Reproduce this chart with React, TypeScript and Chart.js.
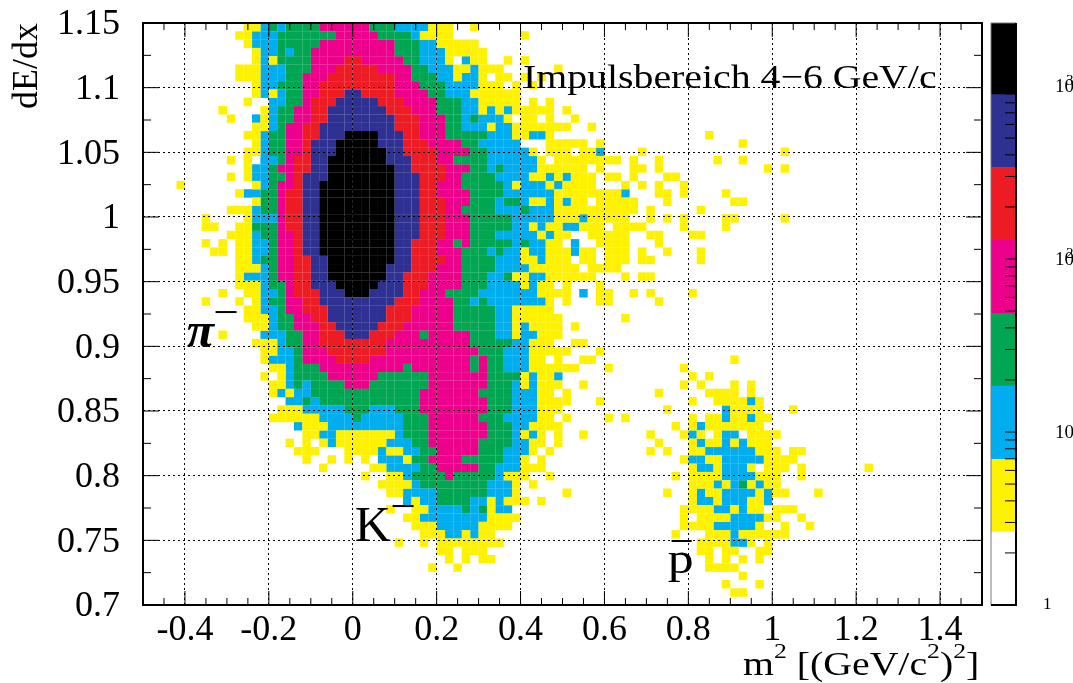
import React, { useEffect, useRef } from "react";
import Chart from "chart.js/auto";

// Histogram rows from the top (dE/dx = 1.15) down. Each token is "<first column><level>", running up to the next token.
// Levels: y b g p r n k are the contour colours, _ is empty.
const histogramRows: string[] = [
  "12y14b15g16b17g21p27g30b34y37_39y40_",
  "11y13b16g23p28g32b33y37_45y46_",
  "12y13b16g21p30g33b35y40_",
  "13y14b16g17b18g20p30g33b36y41_",
  "13y14b15y16g20p24r26p31g33b36y37_38b39y41_43y44_45y46_",
  "11y14b17g20p23r28p32g34b37y39b40y43_49y50_",
  "11y14b17g19p22r30p32g35b37y38b40y41_42y44_45y46_47y48_",
  "13y14b16g19p21r30p33g36b40y43_44y45_46y47_",
  "13y14b15y16b17g19p21r24n26r30p34g36b39y45_",
  "12y13_15b17g19p20r23n28r31p35g38b40y45_46y47_48y49_",
  "9y10_14y15b16g18p20r22n29r32p35g38b40y41b42y43b44y49_50y51_",
  "10y11_13b14y15b16g18p20r22n30r33p36g38b39g40b43y44_45y47_48y49_51y52_",
  "13y15b16g17p19r21n30r33p36g38b41y42b44y51_53y54_",
  "12y14b15g17p19r21n24k28n31r33p36g41b44y46b48y49_67y68_",
  "13y14b15g17p19r20n23k28n31r34p38g40b45_48y53_54y55_71y72_",
  "12y14b15g17p19r20n23k29n31r35p39g41b46y47_48y51_52y54b55_59y60_76y77_",
  "10y11_12y13_14b16g17p18r20n22k29n32r35p37g41b47y48_49y57_58y59_61y62_68y69_71y72_",
  "12y13b15g16p18r20n22k30n32r36p39g41b42g43b47y53_54y55_58y60_61y62_74y75_76y77_",
  "10y11_12y13b15g17p18r19n22k30n33r36p38g42b46y48b49y50b51y54_55y57_58y59_62y64_",
  "4y5_13y14b15g16p18r19n21k30n33r35p38g43b44y45b48y49b50y54_57y58_59y60_61y62_64y65_",
  "11y12b14g16p17r19n21k30n33r35p39g43b49y57b58_61y63_64y65_69y70_",
  "13y14g16p17r19n21k30n33r36p39g42b43g45b46y48b49y50b51y53_54y59_62y63_70y72_",
  "10y13b14g16p17r19n21k30n33r36p38g42b45g46b49y59_60y61_66y67_",
  "7y8_12y13b16p17r19n21k30n33r36p39g44b49y52b53y58_60y61_62y63_64y65_69y71_76y77_",
  "7y9_11y13g16p17r19n21k30n33r36p39g44b46y47b48y50b52y55_56y60_64y65_69y70_",
  "10y13b14g16p18r19n21k30n33r36p39g42b47y48b49y51_53y58_60y62_65y67_",
  "7y8_9y10_11y13b15g16p18r19n21k30n32r35p37g38p39g44b45g46b48y50_51b52_54y58_61y62_",
  "8y10_11y13b15g16p18r19n21k30n32r35p38g41b42g43b45y46b48y51b52y54_55y58_59y60_62y63_66y67_",
  "11y13b14g16p18r20n22k30n32r36p38g42b45y47b48y51_52y54_55y58_59y61_66y67_",
  "11y14b15g16p18r20n22k29n32r35p38g42b46y52_53y57_",
  "11y12b15g16p18r20n22k29n31r34p38g41b43g44y46b48y54_57y58_59y61_",
  "11y14b15g17p18r20n23k28n31r34p38g41b45y46b47y49_50y51_54y55_",
  "9y10_12y14b16g17p18r21n24k27n31r33p36g40b47y51_52b53_54y56_58y59_60y61_65y66_",
  "7y8_11y12_13y14b15g17p19r21n30r33p37g39b40g41b48y49_50y51_54y56_61y62_",
  "12y14b16g17p19r22n29r32p37g42b44y49_",
  "12y15b16g18p20r22n29r32p37g42b44y50_57y58_",
  "13y15b16g18p21r23n28r31p37g42b44y45b46y50_51y52_",
  "9y10_14b17g19p21r24n27r30p33g34p39g42b44y45b47y50_",
  "13y16b17g19p21r29p39g44b46y49_51y53_",
  "14y16b18g19p22r29p40g43b46y51_54y55_",
  "14y15b18g19p23r27p39g40p41g43b46y48_49y50_52y54_70y71_",
  "15y17b18g21p31g32p39g40p41g43b46y52_55y56_64y65_",
  "14y15_16y17b18g22p28g34p41g45y46b47y49b50_65y66_67y68_",
  "15y17b18g19b20g24p27g34p41g44b45y46b47y50_52y53_64y65_66y67_70y71_72y73_",
  "15y16b17y18b20g33p40g44b47y49_50y51_61y62_67y71_72y73_",
  "17b19g20b21g33p41g44b47y51_54y55_65y66_68y72b73y74_",
  "16y19b24g27b30g33p41g44b47y50_62y63_69b70y74_77y78_",
  "15y21b25g26b31g34p40g43b47y49_50y51_55y56_57y58_65y66_67y69b70y72b73y75_",
  "18b19y22b31g34p41g44b46y50_63y64_65y66b67y74_",
  "19y21b23y30b31g34p41g44b45y46b47y48_49y50_52y53_60y61_64y65b66y67_68y69b71_72y76_",
  "17y18_19y20_21y22b23y29b32g34p40g44b46y48_49y50_61y62_65y66b67y69b70y71b72y75_",
  "18y21_24y28b29y31b33g35p40g43b46y47_48y49_60y61_62y63_65y67b73y76_77y79_",
  "19y20_22y23_24y25_26y27_28b31y32g34p38g43b45y46_47y48_64y65b67y69b74y78_",
  "21y22_27y29b33g35p40g42b45y48_65y66b68y69b72y73_74y77_78y79_86y87_",
  "26y27_29y31b32g36p37g42b43y46_48y49_63y64_65y69b73y76_78y79_",
  "28y32b33g41b44y45_46y47_65y68b69y70b71g72y73b74y76_",
  "29y31b35g41b44y45_50y51_62y63_65y66b67y69b73y74b75y77_80y81_",
  "31b32y33b35g39b41y42b43y46_47y48_65y66b68y69b72y74b75_",
  "29y30_32y34b38g39b40g41y42b44_64y68b70y71b72y74_75y78_",
  "31y33b41y45_64y65_66y70b74y76_78y79_",
  "32y35b40y44_64y68b73y74_76y77_79y80_",
  "33y36b38y39b40y42_63y64_67y70b71y77_",
  "30y31_33y34_35y43_66y70b72y73_74y75_",
  "35y37_38y41_66y68_69y71_73y75_",
  "36y37_38y39_40y42_67y68_69y70_71y72_73y74_",
  "34y35_37y38_67y71_",
  "71y72_",
  "69y70_73y74_",
  "70y72_",
  "",
];

const levelKeys = ["y", "b", "g", "p", "r", "n", "k"];
const levelColors = ["#FFF200", "#00AEEF", "#00A651", "#EC008C", "#ED1C24", "#2E3192", "#000000"];

const xMin = -0.5;
const xMax = 1.5;
const xBins = 100;
const yMin = 0.7;
const yMax = 1.15;
const yBins = 70;

const xTickValues = [-0.4, -0.2, 0, 0.2, 0.4, 0.6, 0.8, 1, 1.2, 1.4];
const xTickLabels = ["-0.4", "-0.2", "0", "0.2", "0.4", "0.6", "0.8", "1", "1.2", "1.4"];
const yTickValues = [0.7, 0.75, 0.8, 0.85, 0.9, 0.95, 1, 1.05, 1.1, 1.15];
const yTickLabels = ["0.7", "0.75", "0.8", "0.85", "0.9", "0.95", "1", "1.05", "1.1", "1.15"];
const xMinorTicks = [-0.45, -0.35, -0.3, -0.25, -0.15, -0.1, -0.05, 0.05, 0.1, 0.15, 0.25, 0.3, 0.35, 0.45, 0.5, 0.55, 0.65, 0.7, 0.75, 0.85, 0.9, 0.95, 1.05, 1.1, 1.15, 1.25, 1.3, 1.35, 1.45];
const yMinorTicks = [0.725, 0.775, 0.825, 0.875, 0.925, 0.975, 1.025, 1.075, 1.125];

const colorbarEdges = [1, 2.64, 6.96, 18.4, 48.6, 128, 338, 892, 2313];
const colorbarColors = ["#FFFFFF", "#FFF200", "#00AEEF", "#00A651", "#EC008C", "#ED1C24", "#2E3192", "#000000"];
const colorbarTicks = [2, 3, 4, 5, 6, 7, 8, 9, 20, 30, 40, 50, 60, 70, 80, 90, 200, 300, 400, 500, 600, 700, 800, 900, 2000];
const colorbarDecades = [10, 100, 1000];
const colorbarExponents = ["", "2", "3"];

const SERIF = '"Liberation Serif"';
const STRETCH = 1.17;

function buildLevelPoints(key: string) {
  const points: { x: number; y: number }[] = [];
  histogramRows.forEach((row, k) => {
    const tokens = [...row.matchAll(/(\d+)([a-z_])/g)];
    tokens.forEach((t, i) => {
      if (t[2] !== key || i + 1 >= tokens.length) return;
      const end = Number(tokens[i + 1][1]);
      for (let c = Number(t[1]); c < end; c++) {
        points.push({
          x: xMin + ((c + 0.5) * (xMax - xMin)) / xBins,
          y: yMax - ((k + 0.5) * (yMax - yMin)) / yBins,
        });
      }
    });
  });
  return points;
}

function stretchedText(ctx: any, text: string, x: number, y: number, sx: number) {
  ctx.save();
  ctx.translate(x, y);
  ctx.scale(sx, 1);
  ctx.fillText(text, 0, 0);
  ctx.restore();
  return ctx.measureText(text).width * sx;
}

const framePlugin = {
  id: "frame",
  afterDraw(chart: any) {
    const { ctx, chartArea: a, scales } = chart;
    const X = (v: number) => scales.x.getPixelForValue(v);
    const Y = (v: number) => scales.y.getPixelForValue(v);
    ctx.save();
    ctx.strokeStyle = "#000";
    ctx.lineWidth = 1;
    const tick = (x0: number, y0: number, x1: number, y1: number) => {
      ctx.beginPath();
      ctx.moveTo(x0, y0);
      ctx.lineTo(x1, y1);
      ctx.stroke();
    };
    xTickValues.forEach((v) => {
      tick(X(v), a.bottom, X(v), a.bottom - 14);
      tick(X(v), a.top, X(v), a.top + 14);
    });
    xMinorTicks.forEach((v) => {
      tick(X(v), a.bottom, X(v), a.bottom - 7);
      tick(X(v), a.top, X(v), a.top + 7);
    });
    yTickValues.forEach((v) => {
      tick(a.left, Y(v), a.left + 16, Y(v));
      tick(a.right, Y(v), a.right - 16, Y(v));
    });
    yMinorTicks.forEach((v) => {
      tick(a.left, Y(v), a.left + 8, Y(v));
      tick(a.right, Y(v), a.right - 8, Y(v));
    });
    ctx.lineWidth = 2;
    ctx.strokeRect(a.left, a.top, a.right - a.left, a.bottom - a.top);

    ctx.fillStyle = "#000";
    ctx.textBaseline = "alphabetic";
    ctx.textAlign = "left";
    ctx.font = `34px ${SERIF}`;
    stretchedText(ctx, "Impulsbereich 4\u22126 GeV/c", X(0.406), Y(1.0997), STRETCH);
    ctx.font = `italic bold 50px ${SERIF}`;
    ctx.fillText("\u03c0", X(-0.396), Y(0.8995));
    ctx.font = `50px ${SERIF}`;
    ctx.fillText("K", X(0.005), Y(0.7495));
    ctx.font = `45px ${SERIF}`;
    stretchedText(ctx, "p", X(0.751), Y(0.7247), 1.15);
    ctx.lineWidth = 2;
    tick(X(-0.327), Y(0.9265), X(-0.277), Y(0.9265));
    tick(X(0.095), Y(0.7765), X(0.145), Y(0.7765));
    tick(X(0.76), Y(0.7495), X(0.808), Y(0.7495));

    // x axis title, with raised exponents
    const parts: [string, boolean][] = [
      ["m", false],
      ["2", true],
      [" [(GeV/c", false],
      ["2", true],
      [")", false],
      ["2", true],
      ["]", false],
    ];
    let tx = 743;
    parts.forEach(([text, sup]) => {
      ctx.font = `${sup ? 22 : 34}px ${SERIF}`;
      tx += stretchedText(ctx, text, tx, sup ? 658 : 675, STRETCH);
    });
    ctx.restore();
  },
};

const colorbarPlugin = {
  id: "colorbarFrame",
  afterDraw(chart: any) {
    const { ctx, chartArea: a, scales } = chart;
    const Z = (v: number) => scales.y.getPixelForValue(v);
    ctx.save();
    ctx.strokeStyle = "#000";
    ctx.lineWidth = 1;
    [...colorbarTicks, ...colorbarDecades].forEach((v) => {
      ctx.beginPath();
      ctx.moveTo(a.right - 11, Z(v));
      ctx.lineTo(a.right, Z(v));
      ctx.stroke();
    });
    ctx.strokeStyle = "#777";
    ctx.beginPath();
    ctx.moveTo(a.left, a.bottom);
    ctx.lineTo(a.left, a.top);
    ctx.lineTo(a.right, a.top);
    ctx.stroke();
    ctx.strokeStyle = "#000";
    ctx.lineWidth = 2;
    ctx.beginPath();
    ctx.moveTo(a.left, a.bottom);
    ctx.lineTo(a.right, a.bottom);
    ctx.lineTo(a.right, a.top);
    ctx.stroke();

    ctx.fillStyle = "#000";
    ctx.textBaseline = "middle";
    ctx.textAlign = "left";
    ctx.font = `17px ${SERIF}`;
    ctx.fillText("1", a.right + 27, Z(1));
    ctx.font = `19px ${SERIF}`;
    colorbarDecades.forEach((v, i) => {
      ctx.fillText("10", a.right + 39, Z(v) + 1);
      if (colorbarExponents[i]) {
        ctx.font = `15px ${SERIF}`;
        ctx.fillText(colorbarExponents[i], a.right + 50, Z(v) - 5);
        ctx.font = `19px ${SERIF}`;
      }
    });
    ctx.restore();
  },
};

export default function App() {
  const mainRef = useRef<HTMLCanvasElement>(null);
  const barRef = useRef<HTMLCanvasElement>(null);

  useEffect(() => {
    document.body.style.margin = "0";
    const main = new Chart(mainRef.current!, {
      type: "scatter",
      data: {
        datasets: levelKeys.map((key, i) => ({
          label: key,
          data: buildLevelPoints(key),
          backgroundColor: levelColors[i],
          borderWidth: 0,
          pointStyle: "rect",
          pointRadius: 6.0,
          pointHoverRadius: 6.0,
        })),
      },
      options: {
        animation: false,
        responsive: false,
        maintainAspectRatio: false,
        events: [],
        layout: { padding: { top: 23, right: 8 } },
        plugins: { legend: { display: false }, tooltip: { enabled: false } },
        scales: {
          x: {
            type: "linear",
            min: xMin,
            max: xMax,
            afterBuildTicks: (s: any) => {
              s.ticks = xTickValues.map((value) => ({ value }));
            },
            afterFit: (s: any) => {
              s.height = 78;
              s.paddingLeft = 0;
              s.paddingRight = 0;
            },
            ticks: {
              autoSkip: false,
              maxRotation: 0,
              padding: 4,
              color: "#000",
              font: { family: SERIF, size: 36 },
              callback: (v: any) => xTickLabels[xTickValues.indexOf(Number(v))] ?? "",
            },
            border: { display: false, dash: [2, 3] },
            grid: { color: "#000", lineWidth: 1, z: 1, drawTicks: false },
          },
          y: {
            type: "linear",
            min: yMin,
            max: yMax,
            afterBuildTicks: (s: any) => {
              s.ticks = yTickValues.map((value) => ({ value }));
            },
            afterFit: (s: any) => {
              s.width = 143;
              s.paddingTop = 0;
              s.paddingBottom = 0;
            },
            ticks: {
              autoSkip: false,
              padding: 23,
              labelOffset: 2,
              color: "#000",
              font: { family: SERIF, size: 36 },
              callback: (v: any) => yTickLabels[yTickValues.indexOf(Number(v))] ?? "",
            },
            border: { display: false, dash: [2, 3] },
            grid: { color: "#000", lineWidth: 1, z: 1, drawTicks: false },
            title: {
              display: true,
              text: "dE/dx",
              align: "end",
              color: "#000",
              padding: { top: 6, bottom: 0 },
              font: { family: SERIF, size: 36 },
            },
          },
        },
      },
      plugins: [framePlugin],
    } as any);

    const bar = new Chart(barRef.current!, {
      type: "bar",
      data: {
        labels: ["z"],
        datasets: colorbarColors.map((color, i) => ({
          label: String(i),
          data: [[colorbarEdges[i], colorbarEdges[i + 1]]],
          backgroundColor: color,
          borderWidth: 0,
          grouped: false,
          barPercentage: 1,
          categoryPercentage: 1,
        })),
      },
      options: {
        animation: false,
        responsive: false,
        maintainAspectRatio: false,
        events: [],
        layout: { padding: { top: 23, bottom: 78, left: 1, right: 57 } },
        plugins: { legend: { display: false }, tooltip: { enabled: false } },
        scales: {
          x: { display: false },
          y: { type: "logarithmic", display: false, min: 1, max: 2313 },
        },
      },
      plugins: [colorbarPlugin],
    } as any);

    return () => {
      main.destroy();
      bar.destroy();
    };
  }, []);

  return (
    <div style={{ position: "relative", width: 1073, height: 683, background: "#fff", overflow: "hidden" }}>
      <canvas ref={mainRef} width={990} height={683} style={{ position: "absolute", left: 0, top: 0 }} />
      <canvas ref={barRef} width={83} height={683} style={{ position: "absolute", left: 990, top: 0 }} />
    </div>
  );
}
